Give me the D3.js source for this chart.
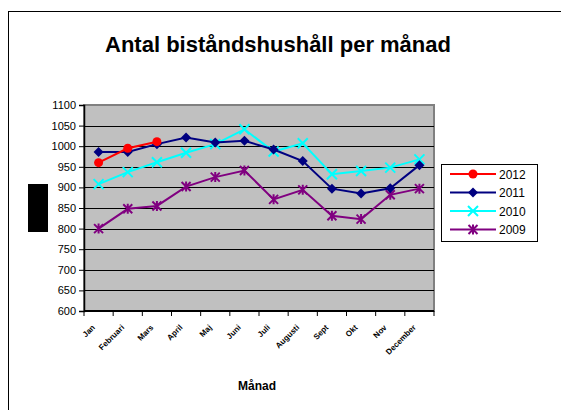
<!DOCTYPE html>
<html>
<head>
<meta charset="utf-8">
<script src="https://cdn.jsdelivr.net/npm/d3@7"></script>
<style>
  body { margin: 0; background: #fff; }
  svg { display: block; font-family: "Liberation Sans", Arial, sans-serif; }
</style>
</head>
<body>
<svg id="chart" width="561" height="410"></svg>
<script>
const months = ["Jan", "Februari", "Mars", "April", "Maj", "Juni", "Juli", "Augusti", "Sept", "Okt", "Nov", "December"];
const yTicks = [600, 650, 700, 750, 800, 850, 900, 950, 1000, 1050, 1100];

const values2012 = [960, 995, 1011];
const values2011 = [986, 986, 1005, 1021, 1009, 1013, 992, 964, 897, 885, 898, 954];
const values2010 = [908, 937, 961, 984, 1005, 1041, 987, 1007, 932, 940, 948, 968];
const values2009 = [800, 848, 855, 902, 925, 941, 871, 894, 831, 823, 882, 897];

const series = [
  { name: "2012", values: values2012, color: "#ff0000", marker: "circle" },
  { name: "2011", values: values2011, color: "#000080", marker: "diamond" },
  { name: "2010", values: values2010, color: "#00ffff", marker: "cross" },
  { name: "2009", values: values2009, color: "#800080", marker: "star" }
];

const svg = d3.select("#chart");
const margin = { left: 84, top: 105, right: 127, bottom: 99 };
const width = 561 - margin.left - margin.right;
const height = 410 - margin.top - margin.bottom;

// outer chart frame
svg.append("rect")
  .attr("x", 8.5).attr("y", 11.5)
  .attr("width", 570).attr("height", 420)
  .attr("fill", "none").attr("stroke", "#000").attr("stroke-width", 1);

svg.append("text")
  .attr("x", 278).attr("y", 52)
  .attr("text-anchor", "middle")
  .attr("font-size", 22).attr("font-weight", "bold")
  .text("Antal biståndshushåll per månad");

// black block left of axis
svg.append("rect")
  .attr("x", 28).attr("y", 184).attr("width", 20).attr("height", 48)
  .attr("fill", "#000");

const x = d3.scaleBand().domain(months).range([0, width]);
const y = d3.scaleLinear().domain([600, 1100]).range([height, 0]);

const g = svg.append("g").attr("transform", `translate(${margin.left},${margin.top})`);

g.append("rect")
  .attr("width", width).attr("height", height)
  .attr("fill", "#c0c0c0").attr("stroke", "#808080").attr("stroke-width", 2);

g.selectAll(".grid")
  .data(yTicks.filter(v => v > 600 && v < 1100))
  .enter().append("line")
  .attr("x1", 0).attr("x2", width)
  .attr("y1", d => Math.round(y(d)) + 0.5).attr("y2", d => Math.round(y(d)) + 0.5)
  .attr("stroke", "#000").attr("stroke-width", 1.2);

// y axis
const yAxis = g.append("g")
  .call(d3.axisLeft(y).tickValues(yTicks).tickFormat(d3.format("d")).tickSize(5).tickPadding(3));
yAxis.select(".domain").attr("stroke", "#000").attr("stroke-width", 1.5);
yAxis.selectAll("text").attr("font-size", 11).attr("fill", "#000")
  .attr("font-family", "Liberation Sans, Arial, sans-serif");

// x axis with ticks at category boundaries
const xg = g.append("g").attr("transform", `translate(0,${height})`);
xg.append("line").attr("x1", 0).attr("x2", width).attr("stroke", "#000").attr("stroke-width", 2);
xg.selectAll(".xtick")
  .data(d3.range(months.length + 1))
  .enter().append("line")
  .attr("x1", i => i * x.bandwidth()).attr("x2", i => i * x.bandwidth())
  .attr("y1", 0).attr("y2", 5)
  .attr("stroke", "#000");
xg.selectAll(".xlabel")
  .data(months)
  .enter().append("text")
  .attr("text-anchor", "end")
  .attr("font-size", 8)
  .attr("font-weight", "bold")
  .attr("transform", d => `translate(${x(d) + x.bandwidth() / 2 - 3},${17}) rotate(-45)`)
  .text(d => d);

svg.append("text")
  .attr("x", 257).attr("y", 390)
  .attr("text-anchor", "middle")
  .attr("font-size", 12).attr("font-weight", "bold")
  .text("Månad");

const cx = (d, i) => x(months[i]) + x.bandwidth() / 2;

function drawMarker(sel, type, color) {
  if (type === "circle") {
    sel.append("circle").attr("r", 4.5).attr("fill", color);
  } else if (type === "diamond") {
    sel.append("path").attr("d", "M0,-5L5,0L0,5L-5,0Z").attr("fill", color);
  } else if (type === "cross") {
    sel.append("path").attr("d", "M-5,-5L5,5M-5,5L5,-5")
      .attr("stroke", color).attr("stroke-width", 2).attr("fill", "none");
  } else {
    sel.append("path").attr("d", "M-4.5,-4.5L4.5,4.5M-4.5,4.5L4.5,-4.5M0,-5L0,5")
      .attr("stroke", color).attr("stroke-width", 2).attr("fill", "none");
  }
}

const line = d3.line().x(cx).y(d => y(d));

[...series].reverse().forEach(s => {
  g.append("path")
    .datum(s.values)
    .attr("d", line)
    .attr("fill", "none")
    .attr("stroke", s.color)
    .attr("stroke-width", 2);
  g.selectAll(null)
    .data(s.values)
    .enter().append("g")
    .attr("transform", (d, i) => `translate(${cx(d, i)},${y(d)})`)
    .each(function () { drawMarker(d3.select(this), s.marker, s.color); });
});

// legend
const lg = svg.append("g");
lg.append("rect")
  .attr("x", 441.5).attr("y", 164.5).attr("width", 96).attr("height", 77)
  .attr("fill", "#fff").attr("stroke", "#000");
series.forEach((s, i) => {
  const ly = 174 + i * 18.5;
  lg.append("line").attr("x1", 450).attr("x2", 496).attr("y1", ly).attr("y2", ly)
    .attr("stroke", s.color).attr("stroke-width", 2);
  const m = lg.append("g").attr("transform", `translate(473,${ly})`);
  drawMarker(m, s.marker, s.color);
  lg.append("text").attr("x", 499).attr("y", ly + 4.5)
    .attr("font-size", 12).text(s.name);
});
</script>
</body>
</html>
